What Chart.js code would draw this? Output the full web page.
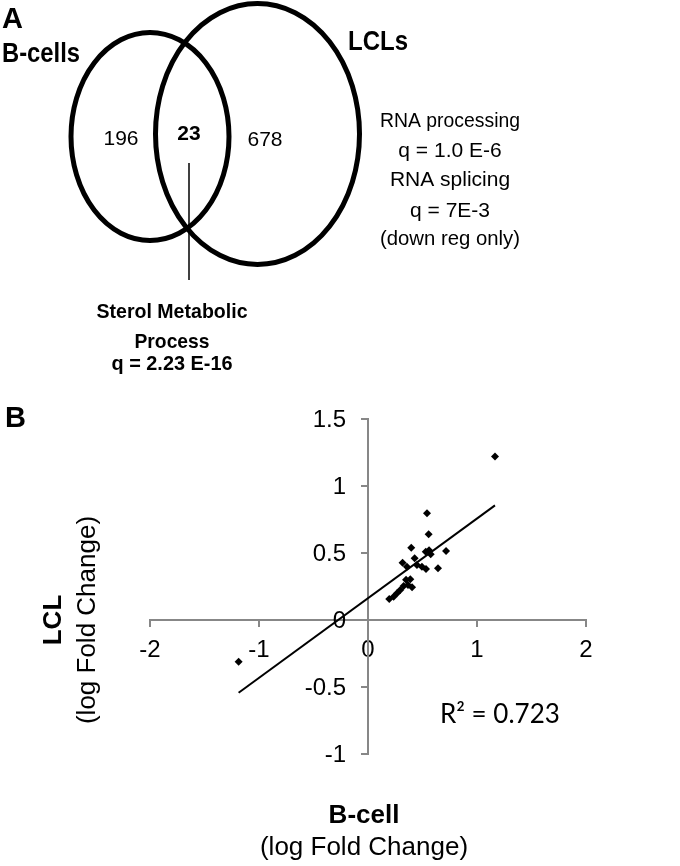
<!DOCTYPE html>
<html>
<head>
<meta charset="utf-8">
<script src="https://cdn.jsdelivr.net/npm/chart.js@4/dist/chart.umd.min.js"></script>
<style>
  html, body { margin: 0; background: #fff; }
  canvas { display: block; }
</style>
</head>
<body>
<canvas id="fig" width="680" height="866"></canvas>
<script>
// Panel B: log fold change of the shared genes
const bcellFC = [1.165, 0.541, 0.556, 0.397, 0.716, 0.53, 0.56, 0.575, 0.428, 0.317, 0.357, 0.449, 0.495,
  0.532, 0.642, 0.349, 0.388, 0.327, 0.367, 0.404, 0.296, 0.266, 0.235, 0.195, -1.187];
const lclFC = [1.22, 0.796, 0.64, 0.54, 0.515, 0.51, 0.52, 0.49, 0.46, 0.428, 0.398, 0.41, 0.398,
  0.38, 0.386, 0.30, 0.304, 0.254, 0.261, 0.244, 0.224, 0.2, 0.174, 0.157, -0.311];
const trendX = [-1.187, 1.165];
const trendY = [-0.543, 0.855];
const xTicks = [-2, -1, 0, 1, 2];
const yTicks = [-1, -0.5, 0, 0.5, 1, 1.5];
const rSquared = '0.723';

// Panel A: venn counts and GO terms
const vennSets = ['B-cells', 'LCLs'];
const vennCounts = [196, 23, 678];
const sharedTerm = ['Sterol Metabolic', 'Process', 'q = 2.23 E-16'];
const lclTerms = ['RNA processing', 'q = 1.0 E-6', 'RNA splicing', 'q = 7E-3', '(down reg only)'];

const SANS = '"Liberation Sans", Arial, sans-serif';
const AXIS_GREY = '#878787';

// fillText with optional squeeze to a target width
function text(ctx, s, x, y, font, align, maxW) {
  ctx.font = font;
  ctx.textAlign = align || 'left';
  ctx.textBaseline = 'alphabetic';
  if (maxW && ctx.measureText(s).width > maxW) ctx.fillText(s, x, y, maxW);
  else ctx.fillText(s, x, y);
}

// Panel A venn diagram + all free text labels
const figurePlugin = {
  id: 'figure',
  afterDraw(chart) {
    const ctx = chart.ctx;
    const xs = chart.scales.x, ys = chart.scales.y;
    ctx.save();
    ctx.fillStyle = '#000';
    ctx.strokeStyle = '#000';

    // venn ellipses
    ctx.lineWidth = 5;
    ctx.beginPath();
    ctx.ellipse(150, 136.5, 79, 104, 0, 0, Math.PI * 2);
    ctx.stroke();
    ctx.beginPath();
    ctx.ellipse(257.5, 134, 102, 130.5, 0, 0, Math.PI * 2);
    ctx.stroke();

    // pointer from overlap to GO term
    ctx.lineWidth = 1.5;
    ctx.beginPath();
    ctx.moveTo(189, 163);
    ctx.lineTo(189, 280);
    ctx.stroke();

    text(ctx, 'A', 2, 28, 'bold 29px ' + SANS);
    text(ctx, vennSets[0], 2, 62, 'bold 27px ' + SANS, 'left', 78);
    text(ctx, vennSets[1], 348, 50, 'bold 28px ' + SANS, 'left', 60);

    text(ctx, String(vennCounts[0]), 121, 145, '21px ' + SANS, 'center');
    text(ctx, String(vennCounts[1]), 189, 140, 'bold 21px ' + SANS, 'center');
    text(ctx, String(vennCounts[2]), 265, 146, '21px ' + SANS, 'center');

    const termBase = [127, 157, 186, 217, 245];
    lclTerms.forEach((s, i) => text(ctx, s, 450, termBase[i], '21px ' + SANS, 'center', 140));

    const sharedBase = [318, 348, 370];
    const sharedW = [151, 75, 121];
    sharedTerm.forEach((s, i) => text(ctx, s, 172, sharedBase[i], 'bold 21px ' + SANS, 'center', sharedW[i]));

    // y tick labels sit left of the crossing axis
    ctx.font = '24px ' + SANS;
    ctx.textAlign = 'right';
    ctx.textBaseline = 'middle';
    const yAxisX = xs.getPixelForValue(0);
    yTicks.forEach(v => ctx.fillText(String(v), yAxisX - 22, ys.getPixelForValue(v) + 1));

    // panel B
    text(ctx, 'B', 5, 427, 'bold 29px ' + SANS);
    text(ctx, 'R\u00B2 = ' + rSquared, xs.getPixelForValue(1.21), ys.getPixelForValue(-0.766),
      '26px Lato, "Open Sans", sans-serif', 'center', 130);

    text(ctx, 'B-cell', 364, 823, 'bold 26px ' + SANS, 'center', 76);
    text(ctx, '(log Fold Change)', 364, 855, '26px ' + SANS, 'center', 228);

    ctx.translate(61, 620);
    ctx.rotate(-Math.PI / 2);
    text(ctx, 'LCL', 0, 0, 'bold 26px ' + SANS, 'center', 56);
    ctx.translate(0, 34);
    text(ctx, '(log Fold Change)', 0, 0, '26px ' + SANS, 'center', 229);
    ctx.restore();
  }
};

const points = bcellFC.map((x, i) => ({ x: x, y: lclFC[i] }));
const trend = trendX.map((x, i) => ({ x: x, y: trendY[i] }));

const axisStyle = {
  type: 'linear',
  border: { display: true, color: AXIS_GREY, width: 2 },
  grid: { drawOnChartArea: false, drawTicks: true, tickLength: 6, color: AXIS_GREY, lineWidth: 2 },
};

new Chart(document.getElementById('fig'), {
  type: 'scatter',
  data: {
    datasets: [
      {
        label: 'genes',
        data: points,
        pointStyle: 'rectRot',
        pointRadius: 4,
        pointBackgroundColor: '#000',
        pointBorderWidth: 0
      },
      {
        type: 'line',
        label: 'trend',
        data: trend,
        borderColor: '#000',
        borderWidth: 2,
        pointRadius: 0,
        fill: false
      }
    ]
  },
  options: {
    responsive: false,
    animation: false,
    events: [],
    layout: { padding: { left: 150, right: 94, top: 419, bottom: 112 } },
    plugins: { legend: { display: false }, tooltip: { enabled: false } },
    scales: {
      x: {
        ...axisStyle,
        position: { y: 0 },
        min: -2, max: 2,
        afterBuildTicks: s => { s.ticks = xTicks.map(v => ({ value: v })); },
        ticks: {
          autoSkip: false, maxRotation: 0, padding: 10, color: '#000',
          font: { family: SANS, size: 24 },
          callback: v => String(v)
        }
      },
      y: {
        ...axisStyle,
        position: { x: 0 },
        min: -1, max: 1.5,
        afterBuildTicks: s => { s.ticks = yTicks.map(v => ({ value: v })); },
        // labels drawn by the figure plugin
        ticks: { display: false }
      }
    }
  },
  plugins: [figurePlugin]
});
</script>
</body>
</html>
